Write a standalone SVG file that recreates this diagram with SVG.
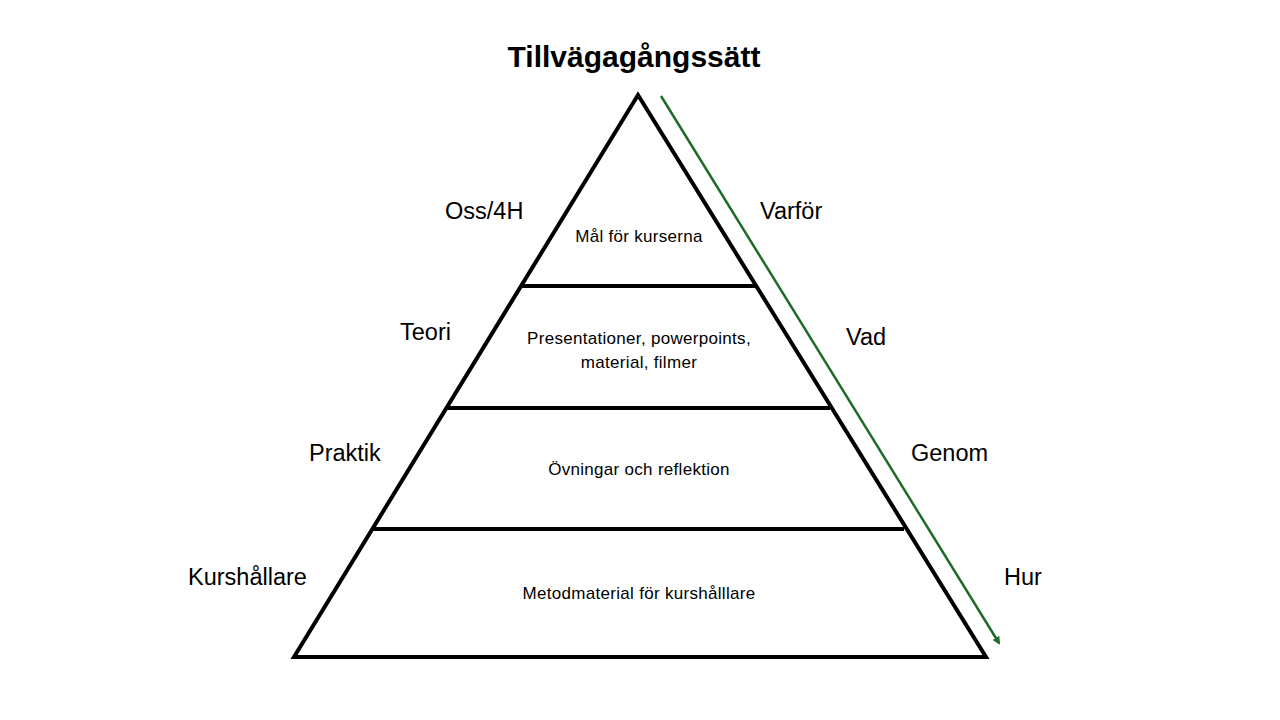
<svg xmlns="http://www.w3.org/2000/svg" width="1280" height="720" viewBox="0 0 1280 720">
<style>
.l{font-family:"Liberation Sans",Arial,sans-serif;font-size:23.5px;fill:#000}
.i{font-family:"Liberation Sans",Arial,sans-serif;font-size:17px;letter-spacing:0.3px;fill:#000;text-anchor:middle}
.s{stroke:#000;stroke-width:4;fill:none}
</style>
<defs><marker id="a" markerWidth="8" markerHeight="8" refX="6" refY="4" orient="auto" markerUnits="userSpaceOnUse"><path d="M0,0L8,4L0,8z" fill="#1e6b2a"/></marker></defs>
<rect width="1280" height="720" fill="#fff"/>
<text x="634" y="67" text-anchor="middle" style="font-family:'Liberation Sans',Arial,sans-serif;font-size:30px;font-weight:bold">Tillvägagångssätt</text>
<g id="pyramid">
<polygon class="s" points="638,95 294,657 986,657" stroke-linejoin="miter"/>
<line class="s" x1="521" y1="286" x2="755" y2="286"/>
<line class="s" x1="446" y1="408" x2="830" y2="408"/>
<line class="s" x1="372" y1="529" x2="904" y2="529"/>
</g>
<g id="n1"><text class="i" x="639" y="242">Mål för kurserna</text></g>
<g id="n2"><text class="i" x="639" y="344">Presentationer, powerpoints,</text><text class="i" x="639" y="368">material, filmer</text></g>
<g id="n3"><text class="i" x="639" y="475">Övningar och reflektion</text></g>
<g id="n4"><text class="i" x="639" y="599">Metodmaterial för kurshålllare</text></g>
<g id="labels">
<text class="l" x="445" y="219">Oss/4H</text>
<text class="l" x="400" y="340">Teori</text>
<text class="l" x="309" y="461">Praktik</text>
<text class="l" x="188" y="585">Kurshållare</text>
<text class="l" x="760" y="219">Varför</text>
<text class="l" x="846" y="345">Vad</text>
<text class="l" x="911" y="461">Genom</text>
<text class="l" x="1004" y="585">Hur</text>
</g>
<g id="connectors"><line x1="661" y1="96" x2="999" y2="643" stroke="#1e6b2a" stroke-width="2.5" marker-end="url(#a)"/></g>
</svg>
